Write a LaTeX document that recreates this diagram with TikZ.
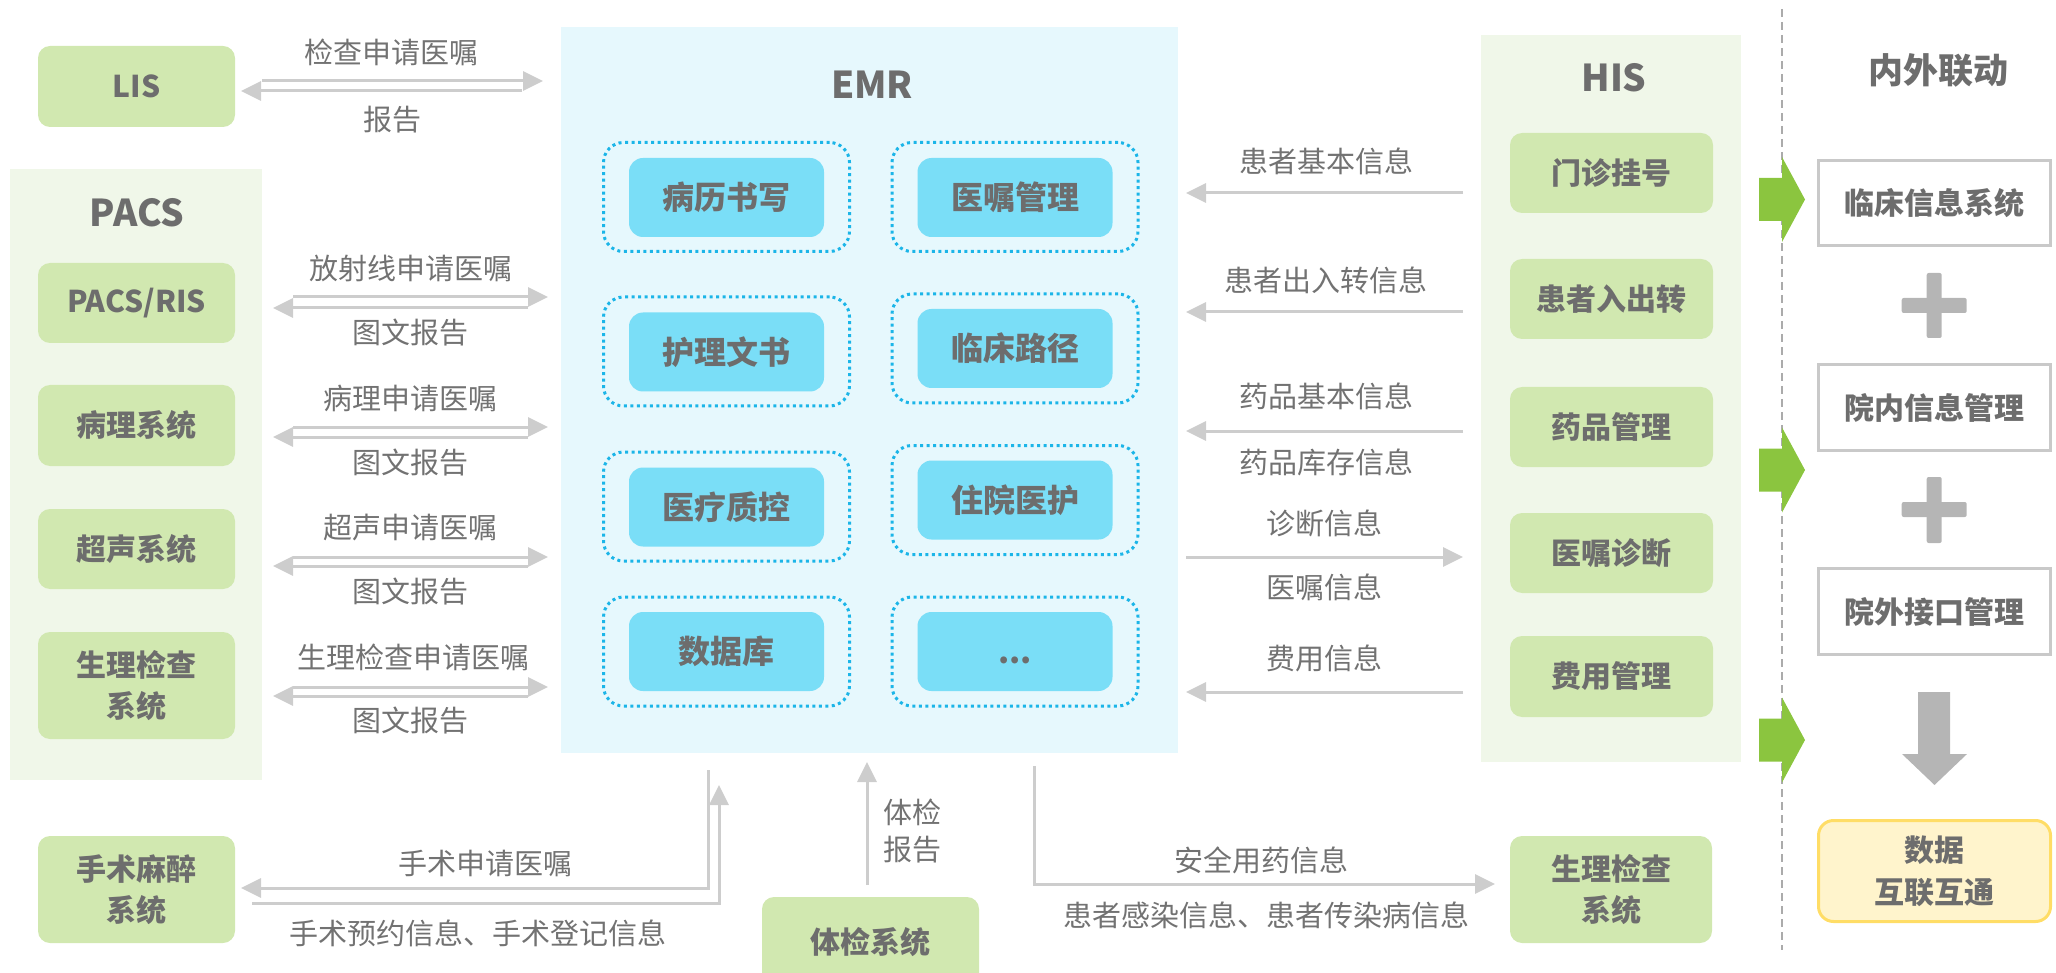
\documentclass[tikz,border=0pt]{standalone}
\usepackage{fontspec}
\setmainfont{Noto Sans CJK SC}
\usetikzlibrary{arrows.meta,calc}
\definecolor{boxgreen}{HTML}{D1E8B0}
\definecolor{panelgreen}{HTML}{F0F7E9}
\definecolor{emrbg}{HTML}{E6F8FD}
\definecolor{innerblue}{HTML}{7ADEF7}
\definecolor{dotblue}{HTML}{1BB5E8}
\definecolor{txt}{HTML}{6D6D6D}
\definecolor{lbltxt}{HTML}{727272}
\definecolor{arrgray}{HTML}{CDCDCD}
\definecolor{garrow}{HTML}{8BC53F}
\definecolor{plusgray}{HTML}{B5B5B5}
\definecolor{rborder}{HTML}{C9C9C9}
\definecolor{yfill}{HTML}{FFF4CC}
\definecolor{yborder}{HTML}{FFDD66}
\definecolor{dashgray}{HTML}{ABABAB}
\begin{document}
\begin{tikzpicture}[x=1pt,y=-1pt,
  every node/.style={inner sep=0pt,outer sep=0pt,text=txt},
  panelbox/.style={fill=#1},
  gbox/.style={fill=boxgreen,rounded corners=12pt,minimum width=197pt,minimum height=80pt,align=center,font=\bfseries\fontsize{30}{41}\selectfont},
  ibox/.style={fill=innerblue,rounded corners=14pt,minimum width=195pt,minimum height=79pt,font=\bfseries\fontsize{32}{40}\selectfont},
  dbox/.style={draw=dotblue,line width=3pt,dash pattern=on 3pt off 3.5pt,rounded corners=20pt,minimum width=246pt,minimum height=109pt},
  rbox/.style={draw=rborder,line width=3pt,fill=white,minimum width=232pt,minimum height=85pt,font=\bfseries\fontsize{30}{41}\selectfont},
  lbl/.style={text=lbltxt,font=\fontsize{29}{37}\selectfont,align=center},
  ttl/.style={font=\bfseries\fontsize{37}{44}\selectfont},
  arr/.style={draw=arrgray,line width=3pt,-{Triangle[length=20pt,width=19pt]}},
  ln/.style={draw=arrgray,line width=3pt}]
\useasboundingbox (0,0) rectangle (2056,973);
% panels
\node[panelbox=panelgreen,minimum width=252pt,minimum height=611pt] (pacsbg) at (136,474.5) {};
\node[panelbox=emrbg,minimum width=617pt,minimum height=726pt] (emr) at (869.5,390) {};
\node[panelbox=panelgreen,minimum width=260pt,minimum height=727pt] (hisbg) at (1611,398.5) {};
\node[ttl] (pacsttl) at (137,213) {PACS};
\node[ttl] (emrttl) at (872,85) {EMR};
\node[ttl] (histtl) at (1614,78) {HIS};
% left column
\node[gbox,minimum height=81pt] (LIS) at (136.5,86.5) {LIS};
\node[gbox] (pacsris) at (136.5,303) {PACS/RIS};
\node[gbox,minimum height=81pt] (bingli) at (136.5,425.5) {病理系统};
\node[gbox] (chaosheng) at (136.5,549) {超声系统};
\node[gbox,minimum height=107pt] (shengliL) at (136.5,685.5) {生理检查\\系统};
\node[gbox,minimum height=107pt] (shoushu) at (136.5,889.5) {手术麻醉\\系统};
% EMR modules
\node[dbox] (d1) at (726.5,197) {};
\node[dbox] (d2) at (1015,197) {};
\node[dbox] (d3) at (726.5,351.5) {};
\node[dbox] (d4) at (1015,348.5) {};
\node[dbox] (d5) at (726.5,506.5) {};
\node[dbox] (d6) at (1015,500) {};
\node[dbox] (d7) at (726.5,651.5) {};
\node[dbox] (d8) at (1015,651.5) {};
\node[ibox] (i1) at (726.5,197.5) {病历书写};
\node[ibox] (i2) at (1015,197.5) {医嘱管理};
\node[ibox] (i3) at (726.5,352) {护理文书};
\node[ibox] (i4) at (1015,348.5) {临床路径};
\node[ibox] (i5) at (726.5,507) {医疗质控};
\node[ibox] (i6) at (1015,500) {住院医护};
\node[ibox] (i7) at (726.5,651.5) {数据库};
\node[ibox] (i8) at (1015,651.5) {\raisebox{0pt}[0.83em][0.07em]{...}};
% HIS column
\node[gbox,minimum width=203pt] (menzhen) at (1611.5,173) {门诊挂号};
\node[gbox,minimum width=203pt] (ruchu) at (1611.5,299) {患者入出转};
\node[gbox,minimum width=203pt] (yaopin) at (1611.5,427) {药品管理};
\node[gbox,minimum width=203pt] (yizhu) at (1611.5,553) {医嘱诊断};
\node[gbox,minimum width=203pt,minimum height=81pt] (feiyong) at (1611.5,676.5) {费用管理};
\node[gbox,minimum width=202pt,minimum height=107pt] (shengliR) at (1611,889.5) {生理检查\\系统};
% bottom
\node[gbox,minimum width=217pt,minimum height=90pt] (tijian) at (870.5,942) {体检系统};
% left arrows
\draw[arr] ($(LIS.east)+(27,-5.5)$) -- ($(LIS.east -| emr.west)+(-18,-5.5)$);
\draw[arr] ($(LIS.east -| emr.west)+(-39,4.5)$) -- ($(LIS.east)+(6,4.5)$);
\foreach \n/\u/\l in {pacsris/-6/5, bingli/1.5/11.5, chaosheng/8/17, shengliL/1.5/10.5}{
  \draw[arr] ($(\n.east)+(58,\u)$) -- ($(\n.east -| emr.west)+(-13,\u)$);
  \draw[arr] ($(\n.east -| emr.west)+(-33,\l)$) -- ($(\n.east)+(38,\l)$);
}
\node[lbl] (t1) at (391,52) {检查申请医嘱};
\node[lbl] (t2) at (392,120) {报告};
\node[lbl] (t3) at (411,268) {放射线申请医嘱};
\node[lbl] (t4) at (410,333) {图文报告};
\node[lbl] (t5) at (410,398) {病理申请医嘱};
\node[lbl] (t6) at (410,463) {图文报告};
\node[lbl] (t7) at (410,528) {超声申请医嘱};
\node[lbl] (t8) at (410,592) {图文报告};
\node[lbl] (t9) at (413,657) {生理检查申请医嘱};
\node[lbl] (t10) at (410,721) {图文报告};
% HIS arrows
\foreach \n/\d in {menzhen/20, ruchu/13, yaopin/4, feiyong/15.5}{
  \draw[arr] ($(\n.west -| hisbg.west)+(-18,\d)$) -- ($(\n.west -| emr.east)+(8,\d)$);
}
\draw[arr] ($(yizhu.west -| emr.east)+(8,4)$) -- ($(yizhu.west -| hisbg.west)+(-18,4)$);
\node[lbl] (h1) at (1326,161) {患者基本信息};
\node[lbl] (h2) at (1326,280) {患者出入转信息};
\node[lbl] (h3) at (1326,396) {药品基本信息};
\node[lbl] (h4) at (1326,462) {药品库存信息};
\node[lbl] (h5) at (1324,523) {诊断信息};
\node[lbl] (h6) at (1324,587) {医嘱信息};
\node[lbl] (h7) at (1324,658) {费用信息};
% bottom arrows
\draw[arr] ($(emr.south west)+(147,17)$) |- ($(shoushu.east)+(6,-1.5)$);
\draw[arr] ($(shoushu.east)+(17,13.5)$) -| ($(emr.south west)+(158,32)$);
\draw[arr] ($(tijian.north)+(-3.5,-12)$) -- ($(emr.south -| tijian.north)+(-3.5,9)$);
\draw[arr] ($(emr.south west)+(473,13)$) |- ($(shengliR.west)+(-15,-5.5)$);
\node[lbl] (b1) at (485,863) {手术申请医嘱};
\node[lbl] (b2) at (478,933) {手术预约信息、手术登记信息};
\node[lbl] (b3) at (912,831.5) {体检\\报告};
\node[lbl] (b4) at (1261,860) {安全用药信息};
\node[lbl] (b5) at (1266,915) {患者感染信息、患者传染病信息};
% right panel
\draw[dashgray,line width=2.5pt,dash pattern=on 8pt off 5pt] (1782,9) -- (1782,950);
\foreach \c in {199.5,470,740}{
  \fill[garrow] (1759,\c-21.5) -- (1782,\c-21.5) -- (1782,\c-42.5) -- (1805,\c) -- (1782,\c+42.5) -- (1782,\c+21.5) -- (1759,\c+21.5) -- cycle;
}
\node[font=\bfseries\fontsize{35}{42}\selectfont] (nwld) at (1938,70) {内外联动};
\node[rbox] (rb1) at (1934.5,203.5) {临床信息系统};
\node[rbox,minimum height=86pt] (rb2) at (1934.5,407.5) {院内信息管理};
\node[rbox,minimum height=86pt] (rb3) at (1934.5,611.5) {院外接口管理};
\fill[plusgray,rounded corners=2pt] (1926.7,273) rectangle (1941.7,338);
\fill[plusgray,rounded corners=2pt] (1901.7,298) rectangle (1966.7,313);
\fill[plusgray,rounded corners=2pt] (1926.7,477) rectangle (1941.7,543);
\fill[plusgray,rounded corners=2pt] (1901.7,502) rectangle (1966.7,517);
\fill[plusgray] (1918,692) -- (1950,692) -- (1950,754) -- (1967,754) -- (1934.5,785) -- (1902,754) -- (1918,754) -- cycle;
\node[draw=yborder,fill=yfill,line width=3pt,rounded corners=15pt,minimum width=232pt,minimum height=101pt,align=center,font=\bfseries\fontsize{30}{42}\selectfont] (datab) at (1934.5,871) {数据\\互联互通};
\end{tikzpicture}
\end{document}
